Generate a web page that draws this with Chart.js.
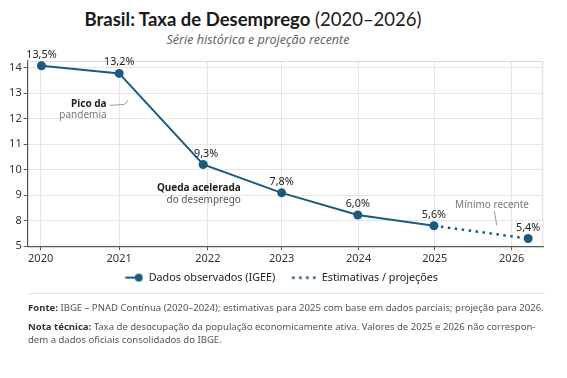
<!DOCTYPE html>
<html><head><meta charset="utf-8">
<script src="https://cdn.jsdelivr.net/npm/chart.js@4/dist/chart.umd.min.js"></script>
<style>
html,body{margin:0;padding:0;background:#fff;width:567px;height:378px;overflow:hidden;font-family:"Noto Sans",sans-serif;}
#title{position:absolute;left:0;top:8px;width:506px;text-align:center;font-family:Lato,"Noto Sans",sans-serif;font-size:18.5px;color:#1a1a1a;white-space:nowrap;}
#title b{font-weight:700;}
#sub{position:absolute;left:0;top:31px;width:516px;text-align:center;font-size:12.5px;font-style:italic;color:#666;}
#wrap{position:absolute;left:0;top:0;width:567px;height:297px;}
#sep{position:absolute;left:28px;top:293px;width:517px;height:1px;background:#e2e2e2;}
.foot{position:absolute;left:28px;font-size:9.55px;color:#555;white-space:nowrap;line-height:13px;}
.foot b{color:#333;font-weight:700;}
</style></head>
<body>
<div id="title"><b>Brasil: Taxa de Desemprego</b> (2020–2026)</div>
<div id="sub">Série histórica e projeção recente</div>
<div id="wrap"><canvas id="c"></canvas></div>
<div id="sep"></div>
<div class="foot" style="top:301px"><b>Fonte:</b> IBGE – PNAD Contínua (2020–2024); estimativas para 2025 com base em dados parciais; projeção para 2026.</div>
<div class="foot" style="top:320px"><b>Nota técnica:</b> Taxa de desocupação da população economicamente ativa. Valores de 2025 e 2026 não correspon-<br>dem a dados oficiais consolidados do IBGE.</div>
<script>
// ---- data ----
const years = ['2020','2021','2022','2023','2024','2025','2026'];
const yearTickPos = [2020, 2021.0, 2022.13, 2023.07, 2024.05, 2025.02, 2026];
const pointX = [2020.01, 2021.0, 2022.07, 2023.07, 2024.04, 2025.01, 2026.21];
const pointY = [14.07, 13.77, 10.2, 9.09, 8.22, 7.8, 7.3];
const valueLabels = ['13,5%','13,2%','9,3%','7,8%','6,0%','5,6%','5,4%'];
const yTickValues = [7, 8, 9, 10, 11, 12, 13, 14];
const yTickLabels = ['5', '8', '9', '10', '11', '12', '13', '14'];
const observedIdx = [0,1,2,3,4,5];
const projectedIdx = [5,6];
const seriesNames = ['Dados observados (IGEE)', 'Estimativas / projeções'];

const COLOR = '#1d5a7e';
const FONT = '"Noto Sans", sans-serif';

function mkObsIcon(){
  const c = document.createElement('canvas'); c.width = 38; c.height = 12;
  const g = c.getContext('2d');
  g.strokeStyle = COLOR; g.lineWidth = 2; g.beginPath(); g.moveTo(20,6); g.lineTo(31,6); g.stroke();
  g.fillStyle = COLOR; g.beginPath(); g.arc(33.5,6,4,0,Math.PI*2); g.fill();
  return c;
}
function mkProjIcon(){
  const c = document.createElement('canvas'); c.width = 38; c.height = 12;
  const g = c.getContext('2d'); g.fillStyle = COLOR;
  [15,22,29,36].forEach(x=>{ g.beginPath(); g.arc(x,6,1.5,0,Math.PI*2); g.fill(); });
  return c;
}
const icons = [mkObsIcon(), mkProjIcon()];

const labelPlugin = {
  id: 'vlabels',
  afterDatasetsDraw(chart){
    const ctx = chart.ctx;
    const m0 = chart.getDatasetMeta(0), m1 = chart.getDatasetMeta(1);
    const pts = observedIdx.map((i,k)=>m0.data[k]).concat([m1.data[1]]);
    ctx.save();
    ctx.font = '10.8px ' + FONT; ctx.fillStyle = '#222'; ctx.textAlign = 'center'; ctx.textBaseline = 'middle';
    pts.forEach((p,i)=>{ ctx.fillText(valueLabels[i], p.x + (i===2?3:0), p.y - 11); });
    // annotations
    const xs = chart.scales.x, ys = chart.scales.y;
    ctx.textAlign = 'right';
    ctx.font = 'bold 10px ' + FONT; ctx.fillStyle = '#222';
    ctx.fillText('Pico da', xs.getPixelForValue(2020.84), ys.getPixelForValue(12.58));
    ctx.font = '10px ' + FONT; ctx.fillStyle = '#777';
    ctx.fillText('pandemia', xs.getPixelForValue(2020.84), ys.getPixelForValue(12.12));
    ctx.font = 'bold 10px ' + FONT; ctx.fillStyle = '#222';
    ctx.fillText('Queda acelerada', xs.getPixelForValue(2022.55), ys.getPixelForValue(9.26));
    ctx.font = '10px ' + FONT; ctx.fillStyle = '#555';
    ctx.fillText('do desemprego', xs.getPixelForValue(2022.55), ys.getPixelForValue(8.80));
    ctx.textAlign = 'center'; ctx.fillStyle = '#777';
    ctx.fillText('Mínimo recente', xs.getPixelForValue(2025.75), ys.getPixelForValue(8.6));
    ctx.strokeStyle = '#999'; ctx.lineWidth = 1;
    ctx.beginPath();
    ctx.moveTo(xs.getPixelForValue(2020.88), ys.getPixelForValue(12.52));
    ctx.lineTo(xs.getPixelForValue(2021.06), ys.getPixelForValue(12.55));
    ctx.quadraticCurveTo(xs.getPixelForValue(2021.09), ys.getPixelForValue(12.58), xs.getPixelForValue(2021.11), ys.getPixelForValue(12.72));
    ctx.stroke();
    ctx.beginPath();
    ctx.moveTo(xs.getPixelForValue(2025.78), ys.getPixelForValue(8.37));
    ctx.lineTo(xs.getPixelForValue(2025.81), ys.getPixelForValue(7.82));
    ctx.stroke();
    ctx.restore();
  }
};
const framePlugin = {
  id: 'frame',
  beforeDatasetsDraw(chart){
    const a = chart.chartArea, ctx = chart.ctx;
    ctx.save(); ctx.strokeStyle = '#dcdcdc'; ctx.lineWidth = 1;
    ctx.beginPath(); ctx.moveTo(a.left, a.top + 0.5); ctx.lineTo(a.right - 0.5, a.top + 0.5); ctx.lineTo(a.right - 0.5, a.bottom); ctx.stroke();
    ctx.restore();
  }
};

new Chart(document.getElementById('c'), {
  type: 'line',
  data: {
    datasets: [
      { label: seriesNames[0], data: observedIdx.map(i=>({x: pointX[i], y: pointY[i]})),
        borderColor: COLOR, backgroundColor: COLOR, borderWidth: 2, pointRadius: 4.5, pointBackgroundColor: COLOR, pointBorderWidth: 0, tension: 0 },
      { label: seriesNames[1], data: projectedIdx.map(i=>({x: pointX[i], y: pointY[i]})),
        borderColor: COLOR, backgroundColor: COLOR, borderWidth: 2.5, borderDash: [2.5, 4.5], pointRadius: [0, 4.5], pointBackgroundColor: COLOR, pointBorderWidth: 0, tension: 0 }
    ]
  },
  options: {
    responsive: true, maintainAspectRatio: false, animation: false,
    events: [],
    layout: { padding: { top: 61, right: 23.7, left: 0, bottom: 4 } },
    scales: {
      x: { type: 'linear', min: 2019.835, max: 2026.403,
        afterBuildTicks: s => { s.ticks = yearTickPos.map(v=>({value: v})); },
        afterFit: s => { s.height = 23; },
        ticks: { autoSkip: false, maxRotation: 0, padding: 2, color: '#333', font: { family: FONT, size: 11 },
          callback: (v, i) => years[i] },
        grid: { color: '#e6e6e6', tickColor: '#555', tickLength: 4 },
        border: { color: '#555', width: 1.2 } },
      y: { type: 'linear', min: 7, max: 14.255,
        afterBuildTicks: s => { s.ticks = yTickValues.map(v=>({value: v})); },
        afterFit: s => { s.width = 27.7; },
        ticks: { padding: 2, color: '#333', font: { family: FONT, size: 11 },
          callback: (v, i) => yTickLabels[i] },
        grid: { color: '#e6e6e6', tickColor: '#555', tickLength: 4 },
        border: { color: '#555', width: 1.2 } }
    },
    plugins: {
      legend: { position: 'bottom',
        labels: { usePointStyle: true, pointStyleWidth: 38, padding: 3, color: '#222', font: { family: FONT, size: 10.8 },
          generateLabels: chart => chart.data.datasets.map((d,i)=>({ text: d.label, pointStyle: icons[i], fontColor: '#222', strokeStyle: COLOR, fillStyle: COLOR, lineWidth: 0, datasetIndex: i })) } },
      tooltip: { enabled: false }
    }
  },
  plugins: [framePlugin, labelPlugin]
});
</script>
</body></html>
